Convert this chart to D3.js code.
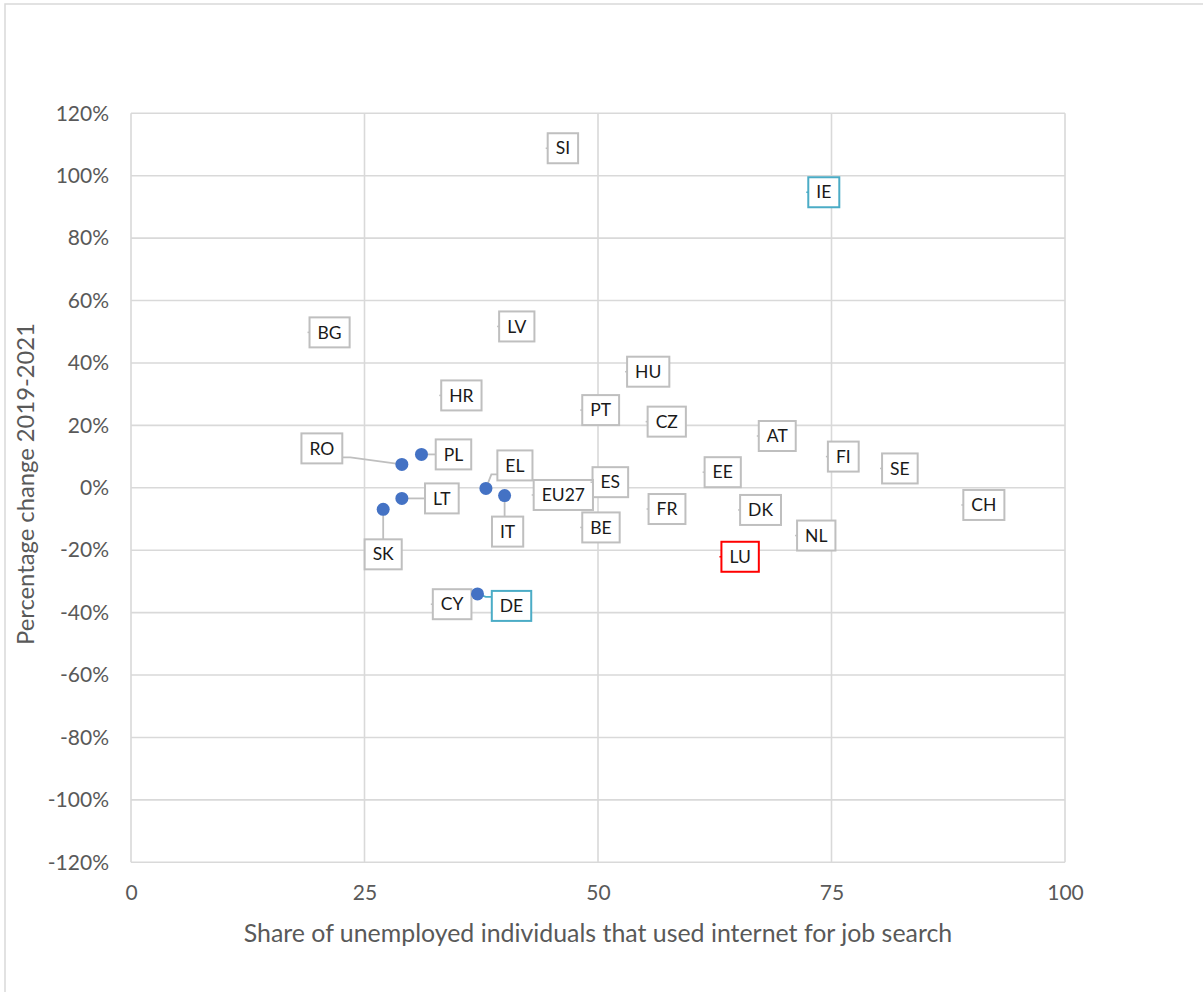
<!DOCTYPE html>
<html>
<head>
<meta charset="utf-8">
<script src="https://cdn.jsdelivr.net/npm/d3@7"></script>
<style>
  html, body { margin: 0; padding: 0; background: #fff; }
  svg { display: block; }
  text { font-family: Lato, "Open Sans", sans-serif; }
</style>
</head>
<body>
<svg id="chart" width="1203" height="992"></svg>
<script>
// ---- data ----
const countries   = ["SI","IE","BG","LV","HU","HR","PT","CZ","AT","FI","SE","EE","ES","CH","FR","DK","BE","NL","LU","EU27","CY","RO","PL","LT","SK","EL","IT","DE"];
const shareOnline = [44.4, 72.3, 18.9, 39.2, 52.9, 33.0, 48.1, 55.1, 67.0, 74.4, 80.2, 61.2, 49.2, 88.9, 55.2, 65.0, 48.1, 71.1, 63.0, 42.9, 32.1, 29.0, 31.1, 29.0, 27.0, 38.0, 40.0, 37.1];
const pctChange   = [108.8, 94.7, 49.8, 51.7, 37.2, 29.6, 24.9, 21.2, 16.6, 10.0, 6.2, 5.0, 1.8, -5.5, -6.8, -7.1, -12.7, -15.3, -22.1, -2.3, -37.3, 7.5, 10.7, -3.4, -6.9, -0.2, -2.5, -34.0];
const markedCountries = ["RO","PL","LT","SK","EL","IT","DE"];
const blueOutlined = ["IE","DE"];
const redOutlined  = ["LU"];
const xTicks = [0, 25, 50, 75, 100];
const yTicks = [-120, -100, -80, -60, -40, -20, 0, 20, 40, 60, 80, 100, 120];
const xTitle = "Share of unemployed individuals that used internet for job search";
const yTitle = "Percentage change  2019-2021";

// ---- layout (label offsets for marked points: box centre relative to point, px) ----
const labelOffsets = {
  RO: [-80, -16], PL: [32, 0], LT: [40, 0], SK: [0, 45],
  EL: [29, -23], IT: [3, 36], DE: [34, 12]
};
// leader anchor side on the label box
const leaderAnchor = { RO: "right", PL: "left", LT: "left", SK: "top", EL: "left", IT: "top", DE: "left" };

const svg = d3.select("#chart");
const W = 1203, H = 992;
const margin = { left: 131, right: W - 1065, top: 113.3, bottom: H - 862.3 };

// outer chart border
svg.append("rect").attr("x", 5).attr("y", 4).attr("width", 1210).attr("height", 1000)
  .attr("fill", "#fff").attr("stroke", "#d9d9d9").attr("stroke-width", 1.5);

const x = d3.scaleLinear().domain([0, 100]).range([margin.left, W - margin.right]);
const y = d3.scaleLinear().domain([-120, 120]).range([H - margin.bottom, margin.top]);

// gridlines
const grid = svg.append("g");
grid.selectAll("line.v").data(xTicks).join("line")
  .attr("x1", d => x(d)).attr("x2", d => x(d))
  .attr("y1", y(-120)).attr("y2", y(120))
  .attr("stroke", "#d9d9d9").attr("stroke-width", 1.6);
grid.selectAll("line.h").data(yTicks).join("line")
  .attr("y1", d => y(d)).attr("y2", d => y(d))
  .attr("x1", x(0)).attr("x2", x(100))
  .attr("stroke", "#d9d9d9").attr("stroke-width", 1.6);

// axes (labels only)
const xAxis = d3.axisBottom(x).tickValues(xTicks).tickSize(0).tickPadding(0).tickFormat(d3.format("d"));
const gx = svg.append("g").attr("transform", `translate(0, ${y(-120) + 31})`).call(xAxis);
gx.select(".domain").remove();
gx.selectAll("text").attr("fill", "#595959").attr("font-size", 21).attr("font-family", "Lato").attr("dy", "0.32em");

const yAxis = d3.axisLeft(y).tickValues(yTicks).tickSize(0).tickPadding(0).tickFormat(d => d + "%");
const gy = svg.append("g").attr("transform", `translate(${x(0) - 22}, 0)`).call(yAxis);
gy.select(".domain").remove();
gy.selectAll("text").attr("fill", "#595959").attr("font-size", 21).attr("font-family", "Lato");

// axis titles, sized to the reference lengths
function fitText(sel, target, base) {
  sel.attr("font-size", base);
  const w = sel.node().getComputedTextLength();
  sel.attr("font-size", base * target / w);
}
const xt = svg.append("text").attr("x", (x(0) + x(100)) / 2).attr("y", 933).attr("dy", "0.35em")
  .attr("text-anchor", "middle").attr("fill", "#595959").text(xTitle);
fitText(xt, 709, 20);
const yt = svg.append("text").attr("transform", `translate(26, 484) rotate(-90)`)
  .attr("dy", "0.35em").attr("text-anchor", "middle").attr("fill", "#595959")
  .text(yTitle);
fitText(yt, 322, 20);

// points data
const pts = countries.map((c, i) => ({
  c, px: x(shareOnline[i]), py: y(pctChange[i]),
  marked: markedCountries.includes(c),
  stroke: blueOutlined.includes(c) ? "#4bacc6" : (redOutlined.includes(c) ? "#ff0000" : "#bfbfbf")
}));

const boxH = 30, padX = 8, fs = 17.5;
const labels = svg.append("g");
const leaders = svg.append("g");
const dots = svg.append("g");

pts.forEach(p => {
  const g = labels.append("g");
  const t = g.append("text").attr("font-size", fs).attr("fill", "#1a1a1a").attr("text-anchor", "middle")
    .attr("dy", "0.35em").text(p.c);
  const tw = t.node().getComputedTextLength();
  const bw = tw + 2 * padX;
  let cx, cy;
  if (p.marked) {
    const off = labelOffsets[p.c] || [30, 0];
    cx = p.px + off[0]; cy = p.py + off[1];
  } else {
    cx = p.px + 2 + bw / 2; cy = p.py;
  }
  const bx = cx - bw / 2, by = cy - boxH / 2;
  g.insert("rect", "text").attr("x", bx).attr("y", by).attr("width", bw).attr("height", boxH)
    .attr("fill", "#fff").attr("stroke", p.stroke).attr("stroke-width", 2);
  t.attr("x", cx).attr("y", cy);
  if (p.marked) {
    const side = leaderAnchor[p.c];
    let ax, ay, kx, ky;
    if (side === "right") { ax = bx + bw; ay = Math.min(by + boxH - 6, Math.max(by + 6, p.py)); kx = ax + 8; ky = ay; }
    else if (side === "left") { ax = bx; ay = Math.min(by + boxH - 6, Math.max(by + 6, p.py)); kx = ax - 6; ky = ay; }
    else { ax = Math.min(bx + bw - 6, Math.max(bx + 6, p.px)); ay = by; kx = ax; ky = ay - 6; }
    leaders.append("polyline").attr("points", `${p.px},${p.py} ${kx},${ky} ${ax},${ay}`)
      .attr("fill", "none").attr("stroke", p.stroke).attr("stroke-width", 1.8);
  } else {
    leaders.append("line").attr("x1", p.px).attr("y1", p.py).attr("x2", p.px + 2).attr("y2", p.py)
      .attr("stroke", p.stroke).attr("stroke-width", 1.5);
  }
});

dots.selectAll("circle").data(pts.filter(p => p.marked)).join("circle")
  .attr("cx", d => d.px).attr("cy", d => d.py).attr("r", 6.5).attr("fill", "#4472c4");
</script>
</body>
</html>
